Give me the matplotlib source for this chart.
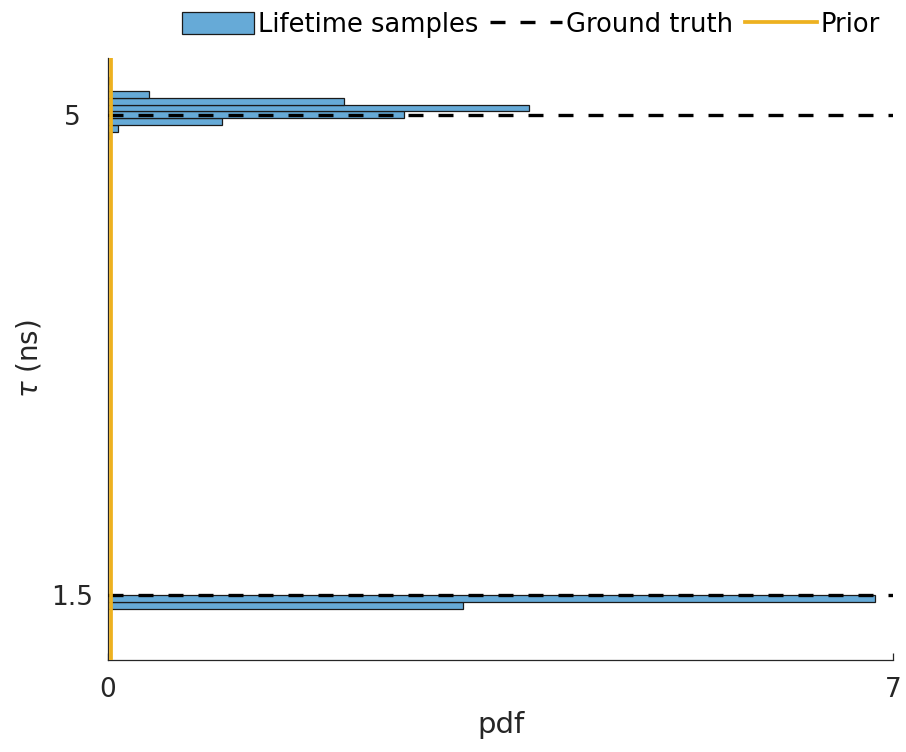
import numpy as np
import matplotlib
matplotlib.use("Agg")
import matplotlib.pyplot as plt

# posterior samples of the two lifetimes, binned at 0.05 ns (pdf normalised)
bin_width = 0.05
bin_lefts_long = [4.825, 4.875, 4.925, 4.975, 5.025, 5.075, 5.125, 5.175, 5.225]
pdf_long = [0.01, 0.085, 1.02, 2.64, 3.75, 2.10, 0.37, 0.015, 0.005]
bin_lefts_short = [1.40, 1.45]
pdf_short = [3.17, 6.84]

ground_truth = [5.0, 1.5]
prior_pdf = 0.03

x_limits = (0, 7)
y_limits = (1.025, 5.415)
x_ticks = [0, 7]
y_ticks = [1.5, 5]

SAMPLE_COLOR = "#66aad7"
PRIOR_COLOR = "#edb120"
AXIS_COLOR = "#262626"

plt.rcParams["font.family"] = ["DejaVu Sans"]
plt.rcParams["mathtext.fontset"] = "dejavusans"

fig = plt.figure(figsize=(9.06, 7.52), dpi=100)
ax = fig.add_axes([108 / 906, 92 / 752, 785 / 906, 602 / 752])

lefts = np.array(bin_lefts_long + bin_lefts_short)
widths = np.array(pdf_long + pdf_short)
bars = ax.barh(lefts, widths, height=bin_width, left=0, align="edge",
               color=SAMPLE_COLOR, edgecolor="#1a1a1a", linewidth=0.9,
               label="Lifetime samples", zorder=2)

truth_lines = []
for tau in ground_truth:
    truth_lines.append(ax.axhline(tau, color="black", linewidth=2.4,
                                  dashes=(4.5, 4.5), zorder=3))

prior_line = ax.axvline(prior_pdf, color=PRIOR_COLOR, linewidth=2.7,
                        zorder=4)

ax.set_xlim(*x_limits)
ax.set_ylim(*y_limits)
ax.set_xticks(x_ticks)
ax.set_yticks(y_ticks)
ax.set_yticklabels(["1.5", "5"])

for side in ("top", "right"):
    ax.spines[side].set_visible(False)
for side in ("left", "bottom"):
    ax.spines[side].set_color(AXIS_COLOR)
    ax.spines[side].set_linewidth(0.9)

ax.tick_params(axis="both", direction="in", length=5, width=0.9,
               color=AXIS_COLOR, labelcolor=AXIS_COLOR, labelsize=19)
ax.tick_params(axis="x", pad=12)
ax.tick_params(axis="y", pad=26)
for lbl in ax.get_yticklabels():
    lbl.set_horizontalalignment("center")

ax.set_xlabel("pdf", fontsize=21, color=AXIS_COLOR, labelpad=6)
ax.set_ylabel(r"$\tau$ (ns)", fontsize=20, color=AXIS_COLOR, labelpad=5)

fig.legend([bars, truth_lines[0], prior_line],
           ["Lifetime samples", "Ground truth", "Prior"],
           loc="upper right", bbox_to_anchor=(0.991, 1.008), ncol=3,
           frameon=False, fontsize=18.5, handlelength=2.8, handleheight=0.9,
           handletextpad=0.15, columnspacing=0.45, borderaxespad=0.3)

fig.savefig("out.png", dpi=100)
